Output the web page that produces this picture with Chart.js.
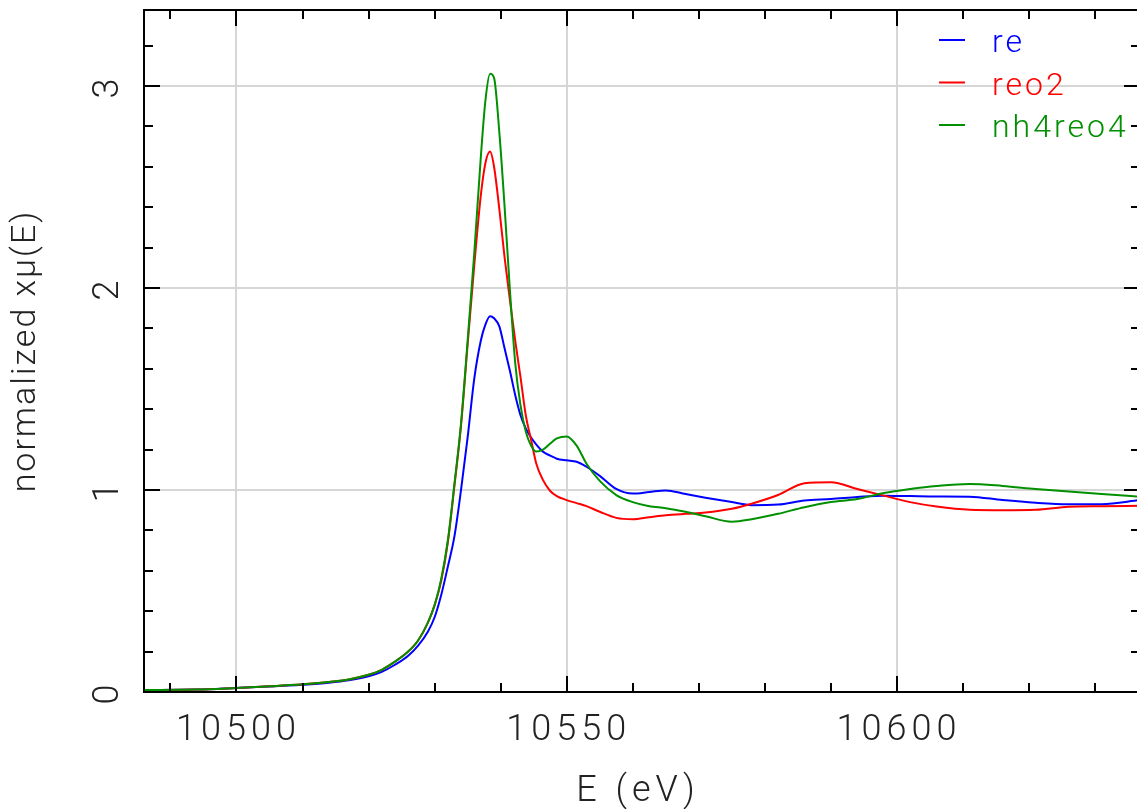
<!DOCTYPE html>
<html>
<head>
<meta charset="utf-8">
<script src="https://cdn.jsdelivr.net/npm/chart.js@4"></script>
<style>
  html, body { margin: 0; padding: 0; overflow: hidden; background: #fff; }
  #wrap { width: 1160px; height: 809px; }
</style>
</head>
<body>
<div id="wrap"><canvas id="chart"></canvas></div>
<script>
    // energies (eV) shared by all three spectra
    const energy = [10486, 10494, 10500, 10505, 10510, 10514, 10517, 10520, 10522, 10524,
        10526, 10527.5, 10529, 10530, 10531, 10532, 10533, 10534, 10535, 10536,
        10537, 10537.7, 10538.4, 10539, 10539.8, 10540.6, 10541.4, 10542.2, 10543, 10543.8,
        10544.6, 10545.4, 10546.4, 10547.5, 10548.5, 10550, 10551.5, 10553, 10555, 10557.5,
        10560, 10562.5, 10565, 10568, 10571, 10575, 10578, 10582, 10586, 10590,
        10594, 10598, 10602, 10606, 10611, 10616, 10621, 10626, 10631, 10636.8];

    const reValues = [0.01, 0.012, 0.02, 0.027, 0.036, 0.046, 0.058, 0.078, 0.1, 0.135,
        0.18, 0.23, 0.3, 0.37, 0.48, 0.62, 0.77, 1.0, 1.26, 1.55,
        1.74, 1.82, 1.86, 1.85, 1.81, 1.7, 1.59, 1.47, 1.37, 1.305,
        1.26, 1.225, 1.19, 1.17, 1.155, 1.147, 1.14, 1.115, 1.07, 1.005,
        0.982, 0.99, 0.998, 0.98, 0.962, 0.94, 0.925, 0.928, 0.948, 0.955,
        0.965, 0.972, 0.97, 0.968, 0.967, 0.95, 0.937, 0.93, 0.93, 0.95];

    const reo2Values = [0.01, 0.012, 0.02, 0.028, 0.038, 0.05, 0.062, 0.085, 0.11, 0.15,
        0.2, 0.255, 0.345, 0.43, 0.55, 0.74, 1.02, 1.32, 1.72, 2.11,
        2.46, 2.62, 2.675, 2.6, 2.39, 2.15, 1.94, 1.74, 1.56, 1.37,
        1.25, 1.13, 1.05, 0.995, 0.97, 0.95, 0.935, 0.92, 0.892, 0.862,
        0.855, 0.865, 0.875, 0.882, 0.888, 0.907, 0.932, 0.975, 1.033, 1.038,
        1.005, 0.972, 0.94, 0.918, 0.902, 0.9, 0.902, 0.917, 0.92, 0.922];

    const nh4reo4Values = [0.01, 0.012, 0.02, 0.028, 0.038, 0.05, 0.062, 0.085, 0.11, 0.15,
        0.2, 0.255, 0.345, 0.43, 0.56, 0.75, 1.03, 1.33, 1.74, 2.17,
        2.65, 2.93, 3.06, 3.04, 2.77, 2.40, 1.99, 1.63, 1.42, 1.29,
        1.22, 1.19, 1.20, 1.23, 1.255, 1.265, 1.22, 1.13, 1.045, 0.975,
        0.94, 0.92, 0.91, 0.892, 0.87, 0.843, 0.855, 0.882, 0.915, 0.94,
        0.955, 0.985, 1.005, 1.02, 1.03, 1.02, 1.005, 0.992, 0.98, 0.967];

    const seriesNames = ['re', 'reo2', 'nh4reo4'];
    const seriesColors = ['#0000ff', '#ff0000', '#009000'];
    const xTickLabels = [10500, 10550, 10600];
    const yTickLabels = [0, 1, 2, 3];

    const GRID = '#d6d6d6';
    const FONT = 'Roboto, "Liberation Sans", sans-serif';

    function isMajor(v, list) {
        return list.some(m => Math.abs(m - v) < 1e-6);
    }

    // inward tick marks, frame, rotated labels and legend
    const framePlugin = {
        id: 'frame',
        afterDraw(chart) {
            const ctx = chart.ctx;
            const a = chart.chartArea;
            const xs = chart.scales.x, ys = chart.scales.y;
            ctx.save();
            ctx.strokeStyle = '#000';
            ctx.lineWidth = 2;
            ctx.beginPath();
            xs.ticks.forEach(t => {
                const px = Math.round(xs.getPixelForValue(t.value));
                const len = isMajor(t.value, xTickLabels) ? 16 : 9;
                ctx.moveTo(px, a.top); ctx.lineTo(px, a.top + len);
                ctx.moveTo(px, a.bottom); ctx.lineTo(px, a.bottom - len);
            });
            ys.ticks.forEach(t => {
                const py = Math.round(ys.getPixelForValue(t.value));
                const len = isMajor(t.value, yTickLabels) ? 16 : 9;
                ctx.moveTo(a.left, py); ctx.lineTo(a.left + len, py);
                ctx.moveTo(a.right, py); ctx.lineTo(a.right - len, py);
            });
            ctx.stroke();
            ctx.strokeRect(a.left, a.top, a.right - a.left, a.bottom - a.top);

            ctx.fillStyle = '#222';
            ctx.font = '300 36px ' + FONT;
            ctx.letterSpacing = '5px';
            ctx.textAlign = 'center';
            ctx.textBaseline = 'alphabetic';
            xTickLabels.forEach(v => {
                ctx.fillText(String(v), xs.getPixelForValue(v) + 2, 740);
            });
            yTickLabels.forEach(v => {
                ctx.save();
                ctx.translate(118, ys.getPixelForValue(v));
                ctx.rotate(-Math.PI / 2);
                ctx.fillText(String(v), 0, 0);
                ctx.restore();
            });
            ctx.fillText('E (eV)', (a.left + a.right) / 2 - 4, 801);

            ctx.font = '300 34px ' + FONT;
            ctx.letterSpacing = '2px';
            ctx.save();
            ctx.translate(35, (a.top + a.bottom) / 2);
            ctx.rotate(-Math.PI / 2);
            ctx.fillText('normalized x\u03bc(E)', 0, 0);
            ctx.restore();

            // legend
            ctx.font = '300 32px ' + FONT;
            ctx.letterSpacing = '3px';
            ctx.textAlign = 'left';
            seriesNames.forEach((name, i) => {
                const base = 52 + i * 42.5;
                ctx.strokeStyle = seriesColors[i];
                ctx.beginPath();
                ctx.moveTo(939, base - 12);
                ctx.lineTo(965, base - 12);
                ctx.stroke();
                ctx.fillStyle = seriesColors[i];
                ctx.fillText(name, 992, base);
            });
            ctx.letterSpacing = '0px';
            ctx.restore();
        }
    };

    const series = [reValues, reo2Values, nh4reo4Values];
    const datasets = series.map((vals, i) => ({
        label: seriesNames[i],
        data: energy.map((e, k) => ({ x: e, y: vals[k] })),
        borderColor: seriesColors[i],
        borderWidth: 2,
        pointRadius: 0,
        fill: false,
        cubicInterpolationMode: 'monotone',
        order: 2 - i,
    }));

    new Chart(document.getElementById('chart'), {
        type: 'line',
        data: { datasets },
        plugins: [framePlugin],
        options: {
            responsive: true,
            maintainAspectRatio: false,
            animation: false,
            layout: { padding: { top: 10, right: 20, left: 0, bottom: 0 } },
            plugins: { legend: { display: false }, tooltip: { enabled: false } },
            scales: {
                x: {
                    type: 'linear',
                    min: 10486,
                    max: 10636.8,
                    border: { display: false },
                    ticks: { display: false },
                    grid: {
                        drawTicks: false,
                        lineWidth: 2,
                        color: c => (c.tick && isMajor(c.tick.value, xTickLabels)) ? GRID : 'rgba(0,0,0,0)',
                    },
                    afterBuildTicks: s => {
                        const t = [];
                        for (let v = 10490; v <= 10630; v += 10) t.push({ value: v });
                        s.ticks = t;
                    },
                    afterFit: s => { s.height = 117; },
                },
                y: {
                    min: 0,
                    max: 3.376,
                    border: { display: false },
                    ticks: { display: false },
                    grid: {
                        drawTicks: false,
                        lineWidth: 2,
                        color: c => (c.tick && c.tick.value > 0 && isMajor(c.tick.value, yTickLabels)) ? GRID : 'rgba(0,0,0,0)',
                    },
                    afterBuildTicks: s => {
                        const t = [];
                        for (let i = 0; i <= 16; i++) t.push({ value: Math.round(i * 2) / 10 });
                        s.ticks = t;
                    },
                    afterFit: s => { s.width = 144; },
                },
            },
        },
    });
</script>
</body>
</html>
